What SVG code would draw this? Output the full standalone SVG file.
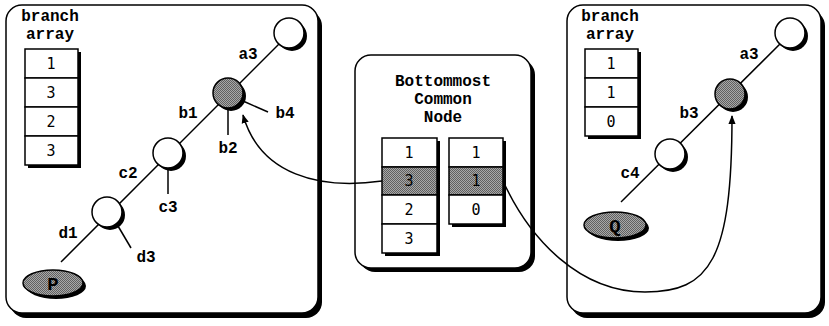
<svg xmlns="http://www.w3.org/2000/svg" width="829" height="326" viewBox="0 0 829 326">
<defs>
<pattern id="dots" width="2" height="2" patternUnits="userSpaceOnUse">
<rect width="2" height="2" fill="#a8a8a8"/>
<rect width="1" height="1" fill="#606060"/>
<rect x="1" y="1" width="1" height="1" fill="#606060"/>
</pattern>
<marker id="arr" viewBox="0 0 10 10" refX="9" refY="5" markerWidth="9" markerHeight="9" markerUnits="userSpaceOnUse" orient="auto">
<path d="M0,1 L10,5 L0,9 Z" fill="#000"/>
</marker>
<style>
.panel{fill:#fff;stroke:#000;stroke-width:1.5}
.shadow{fill:#000}
.cell{fill:#fff;stroke:#000;stroke-width:1.5}
.hcell{fill:url(#dots);stroke:#000;stroke-width:1.5}
.node{fill:#fff;stroke:#000;stroke-width:1.5}
.gnode{fill:url(#dots);stroke:#000;stroke-width:1.5}
.edge{stroke:#000;stroke-width:1.5;fill:none}
.lbl{font-family:"Courier New","Nimbus Mono PS","Nimbus Mono L","FreeMono","Liberation Mono",monospace;font-weight:bold;font-size:16px;fill:#000}
.big{font-size:19px}
.num{font-family:"DejaVu Sans Mono",monospace;font-size:15px;fill:#000;text-anchor:middle}
.mid{text-anchor:middle}
</style>
</defs>

<g id="panel-left">
<rect class="shadow" x="10" y="10" width="312" height="308" rx="16"/>
<rect class="panel" x="6" y="5" width="312" height="308" rx="16"/>
<text class="lbl mid" x="50" y="21">branch</text>
<text class="lbl mid" x="50" y="39">array</text>
<rect class="shadow" x="28" y="52" width="53" height="116"/>
<rect class="cell" x="25" y="49" width="53" height="29"/>
<rect class="cell" x="25" y="78" width="53" height="29"/>
<rect class="cell" x="25" y="107" width="53" height="29"/>
<rect class="cell" x="25" y="136" width="53" height="29"/>
<text class="num" x="51" y="69">1</text>
<text class="num" x="51" y="98">3</text>
<text class="num" x="51" y="127">2</text>
<text class="num" x="51" y="156">3</text>
</g>

<g id="panel-middle">
<rect class="shadow" x="359" y="59" width="176" height="213" rx="16"/>
<rect class="panel" x="355" y="55" width="176" height="213" rx="16"/>
<text class="lbl mid" x="443" y="86">Bottommost</text>
<text class="lbl mid" x="443" y="104">Common</text>
<text class="lbl mid" x="443" y="122">Node</text>
<rect class="shadow" x="385" y="141" width="55" height="115"/>
<rect class="cell" x="382" y="138" width="55" height="29"/>
<rect class="hcell" x="382" y="167" width="55" height="28"/>
<rect class="cell" x="382" y="195" width="55" height="29"/>
<rect class="cell" x="382" y="224" width="55" height="29"/>
<text class="num" x="409" y="158">1</text>
<text class="num" x="409" y="186">3</text>
<text class="num" x="409" y="215">2</text>
<text class="num" x="409" y="244">3</text>
<rect class="shadow" x="452" y="141" width="54" height="86"/>
<rect class="cell" x="449" y="138" width="54" height="29"/>
<rect class="hcell" x="449" y="167" width="54" height="28"/>
<rect class="cell" x="449" y="195" width="54" height="29"/>
<text class="num" x="476" y="158">1</text>
<text class="num" x="476" y="186">1</text>
<text class="num" x="476" y="215">0</text>
</g>

<g id="panel-right">
<rect class="shadow" x="571" y="10" width="254" height="308" rx="16"/>
<rect class="panel" x="567" y="5" width="254" height="308" rx="16"/>
<text class="lbl mid" x="610" y="21">branch</text>
<text class="lbl mid" x="610" y="39">array</text>
<rect class="shadow" x="588" y="52" width="53" height="87"/>
<rect class="cell" x="585" y="49" width="53" height="29"/>
<rect class="cell" x="585" y="78" width="53" height="29"/>
<rect class="cell" x="585" y="107" width="53" height="29"/>
<text class="num" x="611" y="69">1</text>
<text class="num" x="611" y="98">1</text>
<text class="num" x="611" y="127">0</text>
</g>

<g id="connectors">
<line class="edge" x1="61" y1="262" x2="285" y2="38"/>
<line class="edge" x1="228" y1="108" x2="228" y2="135"/>
<line class="edge" x1="243" y1="101" x2="268" y2="112"/>
<line class="edge" x1="168" y1="166" x2="168" y2="194"/>
<line class="edge" x1="118" y1="226" x2="131" y2="248"/>
<line class="edge" x1="621" y1="202" x2="786" y2="38"/>
<path class="edge" d="M382,181 C320,190 260,175 243,115" marker-end="url(#arr)"/>
<path class="edge" d="M503,181 C530,240 580,292 645,292 C710,292 732,260 732,116" marker-end="url(#arr)"/>
</g>

<g id="tree-left">
<g id="L-a"><circle class="shadow" cx="292" cy="36" r="15"/><circle class="node" cx="289" cy="33" r="15"/></g>
<g id="L-b"><circle class="shadow" cx="231" cy="96" r="15"/><circle class="gnode" cx="228" cy="93" r="15"/></g>
<g id="L-c"><circle class="shadow" cx="171" cy="156" r="15"/><circle class="node" cx="168" cy="153" r="15"/></g>
<g id="L-d"><circle class="shadow" cx="110" cy="215" r="15"/><circle class="node" cx="107" cy="212" r="15"/></g>
<g id="L-P"><ellipse class="shadow" cx="56" cy="286" rx="30" ry="13"/><ellipse class="gnode" cx="53" cy="283" rx="30" ry="13"/><text class="lbl big mid" x="53" y="290">P</text></g>
<text class="lbl mid" x="248" y="59">a3</text>
<text class="lbl mid" x="188" y="118">b1</text>
<text class="lbl mid" x="285" y="118">b4</text>
<text class="lbl mid" x="228" y="153">b2</text>
<text class="lbl mid" x="128" y="178">c2</text>
<text class="lbl mid" x="168" y="212">c3</text>
<text class="lbl mid" x="68" y="238">d1</text>
<text class="lbl mid" x="146" y="262">d3</text>
</g>

<g id="tree-right">
<g id="R-a"><circle class="shadow" cx="793" cy="36" r="15"/><circle class="node" cx="790" cy="33" r="15"/></g>
<g id="R-b"><circle class="shadow" cx="733" cy="97" r="15"/><circle class="gnode" cx="730" cy="94" r="15"/></g>
<g id="R-c"><circle class="shadow" cx="673" cy="157" r="15"/><circle class="node" cx="670" cy="154" r="15"/></g>
<g id="R-Q"><ellipse class="shadow" cx="618" cy="228" rx="31" ry="13"/><ellipse class="gnode" cx="615" cy="225" rx="31" ry="13"/><text class="lbl big mid" x="615" y="232">Q</text></g>
<text class="lbl mid" x="749" y="59">a3</text>
<text class="lbl mid" x="689" y="118">b3</text>
<text class="lbl mid" x="630" y="178">c4</text>
</g>
</svg>
